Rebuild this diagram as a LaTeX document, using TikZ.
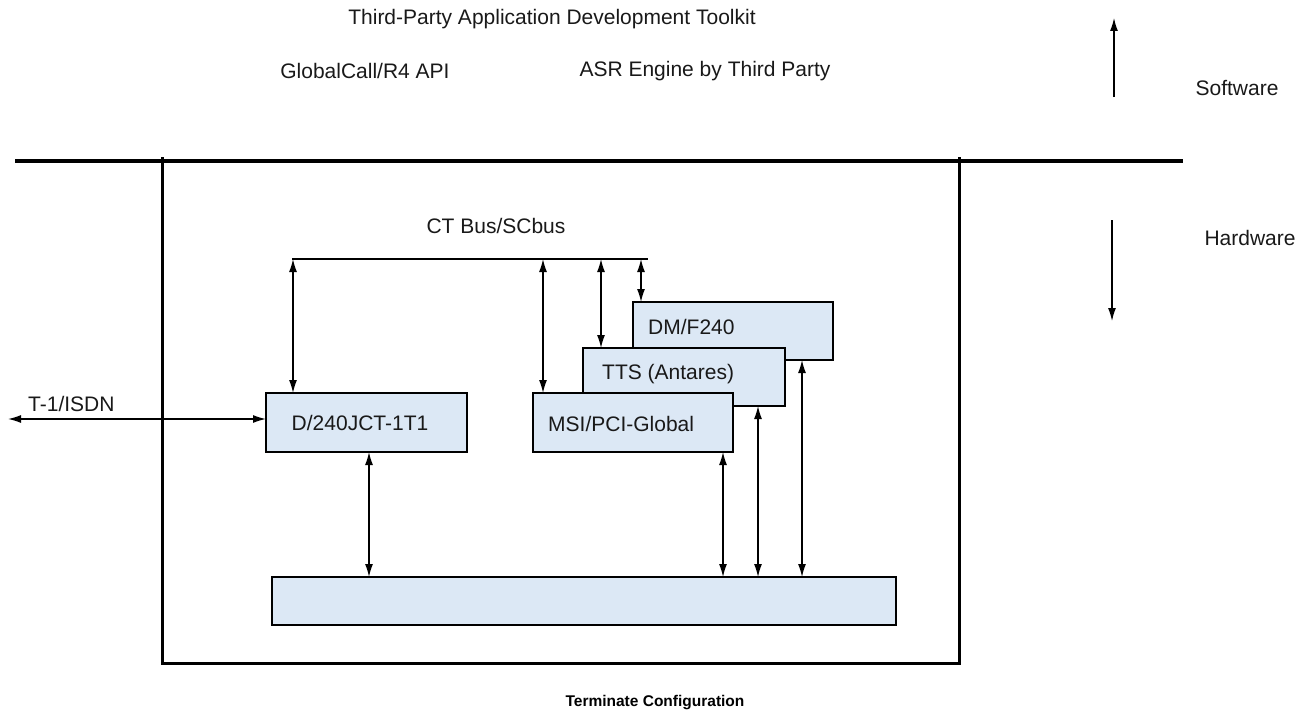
\documentclass[tikz,border=0pt]{standalone}
\usepackage{fontspec}
\setmainfont{Liberation Sans}
\usetikzlibrary{arrows.meta}
\definecolor{boxfill}{RGB}{220,232,245}
\definecolor{txt}{RGB}{25,25,25}
\tikzset{
  box/.style={draw=black, line width=1.8pt, fill=boxfill, inner sep=0pt, outer sep=0pt, anchor=north west},
  lbl/.style={text=txt, font=\fontsize{21}{25}\selectfont, inner sep=0pt},
  dbl/.style={line width=1.3pt, {Latex[length=13pt,width=8pt]}-{Latex[length=13pt,width=8pt]}},
  single/.style={line width=1.3pt, -{Latex[length=13pt,width=8pt]}},
  thick line/.style={line width=4pt},
  frame/.style={line width=3pt}
}
\begin{document}
\begin{tikzpicture}[x=1pt,y=-1pt]
\useasboundingbox (0,0) rectangle (1308,717);
% texts top
\node[lbl] (toolkit) at (552,19) {Third-Party Application Development Toolkit};
\node[lbl] (gc) at (365,71) {GlobalCall/R4 API};
\node[lbl] (asr) at (705,71) {ASR Engine by Third Party};
\node[lbl] (sw) at (1237,88) {Software};
\node[lbl] (hw) at (1250,238) {Hardware};
\coordinate (swA) at (1114,97);
\coordinate (swB) at (1114,18);
\draw[single] (swA) -- (swB);
\coordinate (hwA) at (1112,220);
\coordinate (hwB) at (1112,321);
\draw[single] (hwA) -- (hwB);
% divider and frame
\coordinate (divL) at (15,161);
\coordinate (divR) at (1183,161);
\draw[thick line] (divL) -- (divR);
\coordinate (frTL) at (162,157);
\coordinate (frBR) at (959,663);
\draw[frame] (frTL) |- (frBR) -- (frBR |- frTL);
% bus
\node[lbl] (ctbus) at (496,226) {CT Bus/SCbus};
\coordinate (busL) at (292,259);
\coordinate (busR) at (648,259);
\draw[line width=1.6pt] (busL) -- (busR);
% boxes (back to front)
\node[box, minimum width=200pt, minimum height=58pt] (dm) at (633,302) {};
\node[box, minimum width=202pt, minimum height=58pt] (tts) at (583,348) {};
\node[box, minimum width=200pt, minimum height=59pt] (msi) at (533,393) {};
\node[box, minimum width=201pt, minimum height=59pt] (d240) at (266,393) {};
\node[box, minimum width=624pt, minimum height=48pt] (base) at (272,577) {};
\node[lbl, anchor=west] (dmt) at (648,327) {DM/F240};
\node[lbl, anchor=west] (ttst) at (602,374) {TTS (Antares)};
\node[lbl, anchor=west] (msit) at (548,424) {MSI/PCI-Global};
\node[lbl] (d240t) at (360,423) {D/240JCT-1T1};
% bus arrows
\coordinate (x1) at (293,0);
\coordinate (x2) at (543,0);
\coordinate (x3) at (601,0);
\coordinate (x4) at (641,0);
\draw[dbl] (x1 |- busL) -- (x1 |- d240.north);
\draw[dbl] (x2 |- busL) -- (x2 |- msi.north);
\draw[dbl] (x3 |- busL) -- (x3 |- tts.north);
\draw[dbl] (x4 |- busL) -- (x4 |- dm.north);
% base arrows
\coordinate (y1) at (369,0);
\coordinate (y2) at (723,0);
\coordinate (y3) at (758,0);
\coordinate (y4) at (802,0);
\draw[dbl] (y1 |- d240.south) -- (y1 |- base.north);
\draw[dbl] (y2 |- msi.south) -- (y2 |- base.north);
\draw[dbl] (y3 |- tts.south) -- (y3 |- base.north);
\draw[dbl] (y4 |- dm.south) -- (y4 |- base.north);
% T-1
\coordinate (tEnd) at (8,419);
\draw[dbl] (tEnd) -- (tEnd -| d240.west);
\node[lbl, anchor=west] (t1) at (28,404) {T-1/ISDN};
% caption
\node[text=black, font=\bfseries\fontsize{15.5}{18}\selectfont, inner sep=0pt] (cap) at (655,703) {Terminate Configuration};
\end{tikzpicture}
\end{document}
